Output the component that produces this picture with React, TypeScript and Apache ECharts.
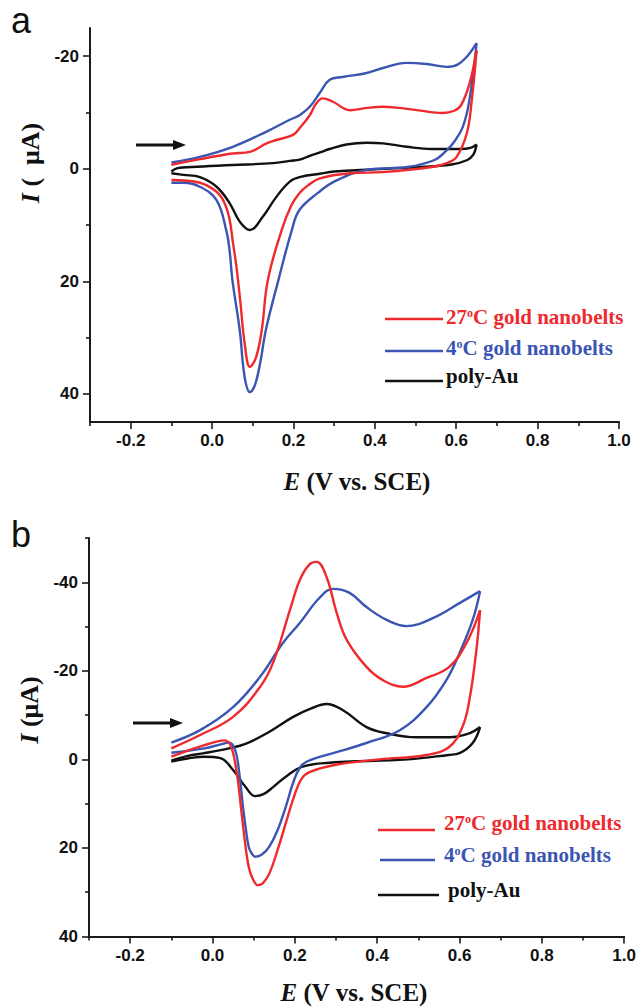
import React, { useEffect, useRef } from "react";
import * as echarts from "echarts";

// ---------- Panel a data: [E (V), I (µA)] ----------
const a27Fwd: [number, number][] = [
  [-0.1, -0.7], [-0.03, -1.7], [0.05, -2.7], [0.093, -3.0], [0.134, -4.5], [0.158, -5.1],
  [0.199, -6.0], [0.215, -7.2], [0.24, -9.5], [0.255, -11.5], [0.272, -12.5], [0.297, -11.9],
  [0.339, -10.4], [0.38, -10.8], [0.42, -11.0], [0.46, -10.8], [0.503, -10.4], [0.567, -9.9],
  [0.595, -10.3], [0.612, -11.3], [0.633, -15.2], [0.65, -21.0],
];
const a27Rev: [number, number][] = [
  [0.65, -21.0], [0.638, -12.0], [0.626, -6.3], [0.601, -2.1], [0.577, -1.0], [0.54, -0.3],
  [0.42, 0.6], [0.339, 0.8], [0.265, 1.7], [0.235, 3.0], [0.215, 4.3], [0.195, 6.5],
  [0.171, 10.9], [0.137, 19.8], [0.122, 28.7], [0.108, 33.5], [0.093, 35.2], [0.08, 31.0],
  [0.07, 24.0], [0.06, 17.5], [0.051, 13.0], [0.043, 9.0], [0.03, 6.0], [0.011, 4.1],
  [-0.03, 2.5], [-0.1, 2.0],
];
const a4Fwd: [number, number][] = [
  [-0.1, -1.1], [-0.03, -2.1], [0.051, -3.9], [0.134, -6.6], [0.191, -8.7], [0.215, -9.5],
  [0.24, -11.0], [0.265, -13.5], [0.289, -15.8], [0.321, -16.3], [0.38, -17.0], [0.42, -17.9],
  [0.478, -18.8], [0.527, -18.6], [0.577, -18.1], [0.601, -18.4], [0.626, -19.9], [0.65, -22.3],
];
const a4Rev: [number, number][] = [
  [0.65, -22.3], [0.632, -12.0], [0.616, -7.4], [0.595, -4.8], [0.577, -3.3], [0.545, -1.5],
  [0.48, -0.3], [0.38, 0.2], [0.3, 2.3], [0.26, 4.3], [0.215, 7.3], [0.196, 10.9],
  [0.163, 19.8], [0.132, 28.7], [0.118, 34.6], [0.105, 38.5], [0.093, 39.7], [0.08, 37.0],
  [0.068, 28.7], [0.05, 19.8], [0.043, 14.5], [0.035, 11.0], [0.011, 5.6], [-0.03, 3.2],
  [-0.07, 2.5], [-0.1, 2.5],
];
const aPolyFwd: [number, number][] = [
  [-0.1, 0.5], [-0.085, -0.1], [-0.05, -0.3], [0.051, -0.65], [0.15, -1.0], [0.191, -1.4],
  [0.215, -1.6], [0.24, -2.3], [0.265, -2.9], [0.289, -3.5], [0.33, -4.3], [0.38, -4.6],
  [0.42, -4.5], [0.478, -3.9], [0.54, -3.5], [0.61, -3.5], [0.635, -3.7], [0.65, -4.3],
];
const aPolyRev: [number, number][] = [
  [0.65, -4.3], [0.642, -2.5], [0.626, -1.5], [0.585, -0.7], [0.46, -0.1], [0.3, 0.5],
  [0.265, 0.9], [0.215, 1.5], [0.191, 2.3], [0.158, 5.0], [0.125, 8.5], [0.093, 10.9],
  [0.068, 9.4], [0.043, 6.1], [0.011, 3.2], [-0.03, 1.5], [-0.07, 1.1], [-0.1, 0.8],
];

// ---------- Panel b data ----------
const b27Fwd: [number, number][] = [
  [-0.1, -2.5], [-0.03, -5.5], [0.05, -9.6], [0.115, -16.3], [0.147, -21.8], [0.188, -33.7],
  [0.212, -40.5], [0.235, -44.0], [0.253, -44.6], [0.277, -41.2], [0.302, -33.0], [0.326, -27.0],
  [0.374, -20.9], [0.414, -17.9], [0.463, -16.4], [0.52, -18.4], [0.575, -20.9], [0.617, -26.3],
  [0.65, -33.7],
];
const b27Rev: [number, number][] = [
  [0.65, -33.7], [0.641, -24.7], [0.624, -13.4], [0.607, -7.3], [0.575, -2.8], [0.52, -1.0],
  [0.405, 0.0], [0.3, 1.2], [0.237, 2.8], [0.217, 4.3], [0.198, 8.4], [0.178, 14.4],
  [0.158, 20.5], [0.138, 25.8], [0.122, 28.0], [0.11, 28.4], [0.098, 27.0], [0.088, 24.3],
  [0.078, 18.0], [0.069, 10.7], [0.059, 3.1], [0.045, -2.9], [0.029, -4.3], [0.01, -4.0],
  [-0.02, -3.2], [-0.06, -2.0], [-0.1, -0.6],
];
const b4Fwd: [number, number][] = [
  [-0.1, -3.8], [-0.03, -6.6], [0.05, -11.8], [0.115, -18.6], [0.171, -26.3], [0.212, -30.8],
  [0.26, -36.5], [0.293, -38.5], [0.333, -37.6], [0.374, -34.4], [0.423, -31.5], [0.471, -30.1],
  [0.535, -31.9], [0.6, -35.3], [0.65, -38.0],
];
const b4Rev: [number, number][] = [
  [0.65, -38.0], [0.632, -31.5], [0.6, -24.0], [0.568, -17.9], [0.52, -11.8], [0.455, -6.6],
  [0.374, -3.7], [0.293, -1.4], [0.242, 0.0], [0.217, 1.3], [0.198, 4.7], [0.178, 10.7],
  [0.158, 16.0], [0.138, 19.7], [0.12, 21.5], [0.104, 22.0], [0.095, 21.2], [0.088, 19.8],
  [0.08, 15.0], [0.074, 10.7], [0.065, 3.1], [0.055, -2.1], [0.039, -3.8], [0.02, -3.4],
  [-0.02, -2.5], [-0.1, -1.5],
];
const bPolyFwd: [number, number][] = [
  [-0.1, 0.3], [-0.06, -0.8], [-0.02, -1.4], [0.04, -2.5], [0.08, -3.5], [0.132, -5.9],
  [0.196, -9.6], [0.24, -11.5], [0.277, -12.5], [0.317, -11.1], [0.374, -7.3], [0.423, -5.9],
  [0.495, -5.0], [0.575, -5.0], [0.624, -5.9], [0.65, -7.3],
];
const bPolyRev: [number, number][] = [
  [0.65, -7.3], [0.632, -3.7], [0.6, -1.4], [0.573, -1.0], [0.475, 0.0], [0.277, 0.8],
  [0.217, 1.7], [0.178, 3.9], [0.148, 6.2], [0.125, 7.8], [0.104, 8.3], [0.08, 6.2],
  [0.05, 2.4], [0.019, -0.3], [-0.02, -0.6], [-0.06, -0.2], [-0.1, 0.5],
];

// ---------- Axis ticks ----------
const xMajorTicks = [-0.2, 0, 0.2, 0.4, 0.6, 0.8, 1.0];
const xMinorTicks = [-0.3, -0.1, 0.1, 0.3, 0.5, 0.7, 0.9];
const aYMajorTicks = [-20, 0, 20, 40];
const aYMinorTicks = [-10, 10, 30];
const bYMajorTicks = [-40, -20, 0, 20, 40];
const bYMinorTicks = [-50, -30, -10, 10, 30];

const legendNames = ["27", "4", "poly-Au"];

const RED = "#ee2a2e";
const BLUE = "#3a55b2";
const BLACK = "#111111";
const AXIS = "#1a1a1a";

const tickFont = { fontFamily: "'Liberation Sans', Arial, sans-serif", fontWeight: "bold" as const, fontSize: 17, color: "#111" };

function xAxisPair(gridIndex: number) {
  return [
    {
      type: "value", gridIndex, min: -0.3, max: 1.0, position: "bottom",
      axisLine: { show: true, onZero: false, lineStyle: { color: AXIS, width: 2 } },
      axisTick: { show: true, customValues: xMajorTicks, length: 7, lineStyle: { color: AXIS, width: 1.6 } },
      axisLabel: { show: true, customValues: xMajorTicks, margin: 10, formatter: (v: number) => v.toFixed(1), ...tickFont },
      splitLine: { show: false },
    },
    {
      type: "value", gridIndex, min: -0.3, max: 1.0, position: "bottom",
      axisLine: { show: false, onZero: false },
      axisTick: { show: true, customValues: xMinorTicks, length: 4, lineStyle: { color: AXIS, width: 1.6 } },
      axisLabel: { show: false },
      splitLine: { show: false },
    },
  ];
}

function yAxisPair(gridIndex: number, min: number, max: number, major: number[], minor: number[]) {
  return [
    {
      type: "value", gridIndex, min, max, inverse: true, position: "left",
      axisLine: { show: true, onZero: false, lineStyle: { color: AXIS, width: 2 } },
      axisTick: { show: true, customValues: major, length: 7, lineStyle: { color: AXIS, width: 1.6 } },
      axisLabel: { show: true, customValues: major, margin: 11, formatter: (v: number) => String(Math.round(v)), ...tickFont },
      splitLine: { show: false },
    },
    {
      type: "value", gridIndex, min, max, inverse: true, position: "left",
      axisLine: { show: false, onZero: false },
      axisTick: { show: true, customValues: minor, length: 4, lineStyle: { color: AXIS, width: 1.6 } },
      axisLabel: { show: false },
      splitLine: { show: false },
    },
  ];
}

function curve(data: [number, number][], color: string, axisIndex: number) {
  return {
    type: "line", data, xAxisIndex: axisIndex, yAxisIndex: axisIndex,
    smooth: 0.4, showSymbol: false, symbol: "none", silent: true,
    lineStyle: { color, width: 2.4 },
  };
}

const serif = "'Liberation Serif', 'Times New Roman', serif";

function legendRow(x1: number, x2: number, ly: number, tx: number, ty: number, color: string, label: string, withDegree: boolean) {
  const rich: any = {
    t: { fontFamily: serif, fontWeight: "bold", fontSize: 21, fill: color },
    s: { fontFamily: serif, fontWeight: "bold", fontSize: 12, fill: color, verticalAlign: "top" },
  };
  const text = withDegree ? `{t|${label}}{s|o}{t|C gold nanobelts}` : `{t|${label}}`;
  return [
    { type: "line", shape: { x1, y1: ly, x2, y2: ly }, style: { stroke: color, lineWidth: 2.5 }, silent: true },
    { type: "text", x: tx, y: ty, style: { text, rich, align: "left", verticalAlign: "middle" }, silent: true },
  ];
}

function titleX(cx: number, cy: number) {
  return {
    type: "text", x: cx, y: cy, silent: true,
    style: {
      text: "{i|E}{n| (V vs. SCE)}", align: "center", verticalAlign: "middle",
      rich: {
        i: { fontFamily: serif, fontWeight: "bold", fontStyle: "italic", fontSize: 25, fill: "#111" },
        n: { fontFamily: serif, fontWeight: "bold", fontSize: 25, fill: "#111" },
      },
    },
  };
}

function titleY(cx: number, cy: number, rest: string) {
  return {
    type: "text", x: cx, y: cy, rotation: Math.PI / 2, silent: true,
    style: {
      text: `{i|I}{n|${rest}}`, align: "center", verticalAlign: "middle",
      rich: {
        i: { fontFamily: serif, fontWeight: "bold", fontStyle: "italic", fontSize: 26, fill: "#111" },
        n: { fontFamily: serif, fontWeight: "bold", fontSize: 26, fill: "#111" },
      },
    },
  };
}

function arrow(x1: number, x2: number, y: number) {
  return [
    { type: "line", shape: { x1, y1: y, x2: x2 - 8, y2: y }, style: { stroke: "#111", lineWidth: 3 }, silent: true },
    { type: "polygon", shape: { points: [[x2 - 13, y - 5], [x2, y], [x2 - 13, y + 5]] }, style: { fill: "#111" }, silent: true },
  ];
}

function panelLetter(t: string, x: number, y: number) {
  return {
    type: "text", x, y, silent: true,
    style: { text: t, fontFamily: "'Liberation Sans', Arial, sans-serif", fontSize: 36, fill: "#111", align: "left", verticalAlign: "middle" },
  };
}

const option: any = {
  animation: false,
  backgroundColor: "#ffffff",
  grid: [
    { left: 90, top: 28, width: 529, height: 394 },
    { left: 89, top: 538, width: 536, height: 398.5 },
  ],
  xAxis: [...xAxisPair(0), ...xAxisPair(1)],
  yAxis: [
    ...yAxisPair(0, -25, 45, aYMajorTicks, aYMinorTicks),
    ...yAxisPair(1, -50, 40, bYMajorTicks, bYMinorTicks),
  ],
  series: [
    curve(aPolyFwd, BLACK, 0), curve(aPolyRev, BLACK, 0),
    curve(a4Fwd, BLUE, 0), curve(a4Rev, BLUE, 0),
    curve(a27Fwd, RED, 0), curve(a27Rev, RED, 0),
    curve(bPolyFwd, BLACK, 2), curve(bPolyRev, BLACK, 2),
    curve(b4Fwd, BLUE, 2), curve(b4Rev, BLUE, 2),
    curve(b27Fwd, RED, 2), curve(b27Rev, RED, 2),
  ],
  graphic: [
    panelLetter("a", 11, 20),
    panelLetter("b", 11, 534),
    ...arrow(136, 186, 145),
    ...arrow(133, 183, 723),
    ...legendRow(385, 443, 319, 446, 317, RED, legendNames[0], true),
    ...legendRow(385, 443, 351, 446, 348, BLUE, legendNames[1], true),
    ...legendRow(385, 443, 381, 446, 376, BLACK, legendNames[2], false),
    ...legendRow(378, 435, 830, 444, 823, RED, legendNames[0], true),
    ...legendRow(380, 435, 860, 444, 855, BLUE, legendNames[1], true),
    ...legendRow(378, 439, 895, 448, 890, BLACK, legendNames[2], false),
    titleX(357, 481),
    titleX(354, 992),
    titleY(30, 163, " (  μA)"),
    titleY(29, 710, " (μA)"),
  ],
};

export default function App() {
  const ref = useRef<HTMLDivElement>(null);
  useEffect(() => {
    document.body.style.margin = "0";
    const chart = echarts.init(ref.current!, null, { renderer: "svg" });
    chart.setOption(option);
    return () => chart.dispose();
  }, []);
  return <div ref={ref} style={{ width: 639, height: 1007 }} />;
}
